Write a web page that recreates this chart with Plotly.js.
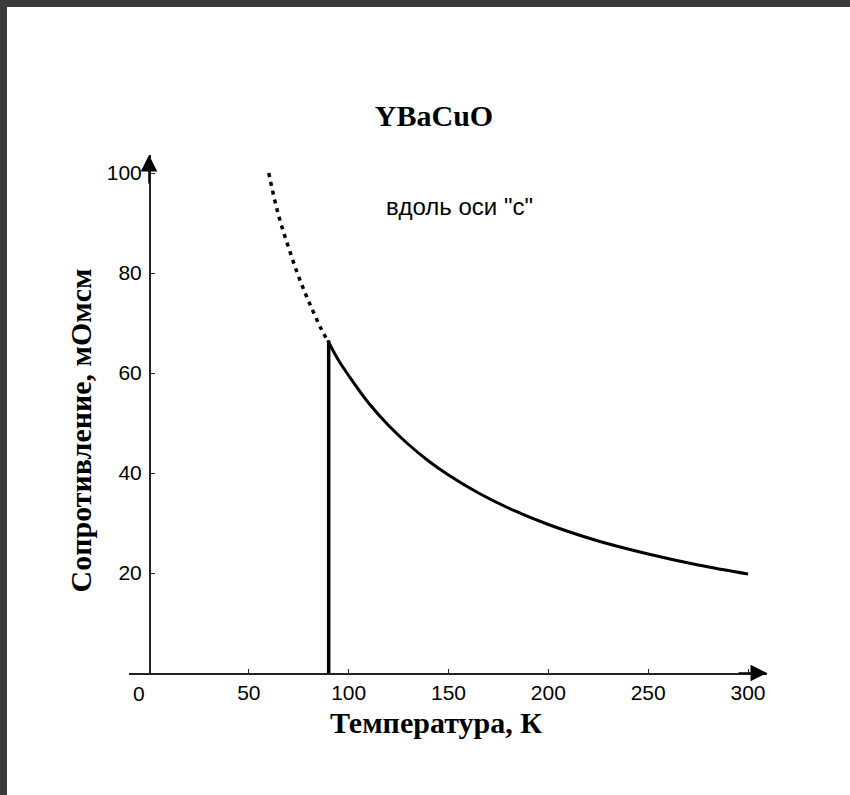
<!DOCTYPE html>
<html><head><meta charset="utf-8">
<script src="https://cdn.plot.ly/plotly-3.0.1.min.js"></script>
<style>
html,body{margin:0;padding:0;background:#fff;}
#chart{position:absolute;left:0;top:0;width:850px;height:795px;}
.strip{position:absolute;background:#3b3b3b;z-index:5;}
</style></head>
<body>
<div id="chart"></div>
<div class="strip" style="left:0;top:0;width:850px;height:7px;"></div>
<div class="strip" style="left:0;top:0;width:7px;height:795px;"></div>
<script>
// Data
const dottedT = [60, 63, 66, 70, 74, 78, 82, 86, 89];
const dottedR = [100, 94.5, 90, 85, 80.3, 76.2, 72.5, 69, 66.8];
const solidT = [89.5, 95, 100, 110, 120, 130, 140, 150, 165, 180, 200, 225, 250, 275, 300];
const solidR = [66.5, 62.5, 59.5, 54, 49.5, 45.7, 42.4, 39.6, 36, 33, 29.7, 26.4, 23.8, 21.6, 19.8];
const tcT = [90, 90];
const tcR = [0, 66.5];
const xTicks = [50, 100, 150, 200, 250, 300];
const yTicks = [20, 40, 60, 80, 100];

const serif = "Liberation Serif, Times New Roman, serif";
const sans = "Liberation Sans, Arial, sans-serif";

const L = 129, R = 767, T = 155, B = 673;
function px2paperX(px){ return (px - L) / (R - L); }
function px2paperY(py){ return (B - py) / (B - T); }

const traces = [
  {x: dottedT, y: dottedR, mode: 'lines', line: {color: '#000', width: 3.5, dash: '4px,5px', shape: 'spline'}, hoverinfo: 'skip'},
  {x: solidT, y: solidR, mode: 'lines', line: {color: '#000', width: 3, shape: 'spline'}, hoverinfo: 'skip'},
  {x: tcT, y: tcR, mode: 'lines', line: {color: '#000', width: 3.5}, hoverinfo: 'skip'}
];

const layout = {
  width: 850, height: 795,
  paper_bgcolor: '#fff', plot_bgcolor: '#fff',
  showlegend: false,
  margin: {l: L, r: 850 - R, t: T, b: 795 - B},
  title: {text: '<b>YBaCuO</b>', font: {family: serif, size: 30, color: '#000'},
          x: 434/850, xref: 'container', xanchor: 'center', y: 1 - 115/795, yref: 'container', yanchor: 'middle'},
  xaxis: {range: [-10, 309.5], showgrid: false, zeroline: false, showline: true, linecolor: '#222', linewidth: 1.5,
          tickvals: xTicks, ticks: 'inside', ticklen: 4, tickcolor: '#222', tickwidth: 1,
          tickfont: {family: sans, size: 21, color: '#000'}, fixedrange: true},
  yaxis: {range: [0, 103.6], anchor: 'free', position: 20/638, showgrid: false, zeroline: false, showline: true,
          linecolor: '#222', linewidth: 1.5, tickvals: yTicks, ticks: 'inside', ticklen: 4, tickcolor: '#222', tickwidth: 1,
          tickfont: {family: sans, size: 21, color: '#000'}, ticklabelstandoff: 3, fixedrange: true},
  annotations: [
    {text: 'вдоль оси "с"', x: px2paperX(459), y: px2paperY(191), xref: 'paper', yref: 'paper', showarrow: false,
     font: {family: sans, size: 24, color: '#000'}},
    {text: '0', x: 0, y: 0, xref: 'x', yref: 'y', showarrow: false, xanchor: 'right', yanchor: 'top',
     xshift: -2, yshift: -7, font: {family: sans, size: 21, color: '#000'}},
    {text: '<b>Температура, К</b>', x: px2paperX(436), y: px2paperY(741), xref: 'paper', yref: 'paper', showarrow: false,
     font: {family: serif, size: 30, color: '#000'}},
    {text: '<b>Сопротивление, мОмсм</b>', x: px2paperX(61), y: px2paperY(431), xref: 'paper', yref: 'paper', showarrow: false, textangle: -90,
     font: {family: serif, size: 30, color: '#000'}},
    {x: 1, y: 0, xref: 'paper', yref: 'y', ax: -30, ay: 0, showarrow: true, arrowhead: 2, arrowsize: 2.2,
     arrowwidth: 1.5, arrowcolor: '#000', text: '', standoff: 0},
    {x: 0, y: 1, xref: 'x', yref: 'paper', ax: 0, ay: 30, showarrow: true, arrowhead: 2, arrowsize: 2.2,
     arrowwidth: 1.5, arrowcolor: '#000', text: '', standoff: 0}
  ]
};

Plotly.newPlot('chart', traces, layout, {staticPlot: true, displayModeBar: false});
</script>
</body></html>
